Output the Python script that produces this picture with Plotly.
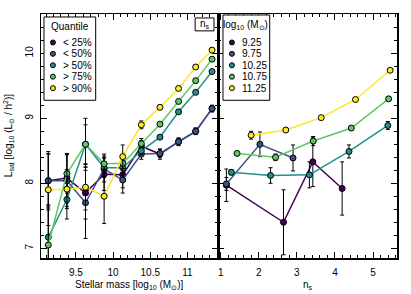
import plotly.graph_objects as go

# ---------------- data ----------------
mass_x = [9.13, 9.38, 9.63, 9.88, 10.13, 10.38, 10.63, 10.88, 11.11, 11.33]
q_names = ["< 25%", "< 50%", "> 50%", "> 75%", "> 90%"]
q25 = [8.04, 8.08, 7.85, 8.14, 8.13, 8.57, 8.45, 8.64, 8.80, 9.15]
q50 = [8.04, 8.04, 7.70, 8.22, 8.05, 8.45, 8.46, 8.64, 8.80, 9.15]
qg50 = [7.17, 7.75, 8.60, 8.24, 8.24, 8.50, 8.71, 9.10, 9.40, 9.72]
qg75 = [7.05, 8.15, 8.60, 8.30, 8.31, 8.61, 8.91, 9.26, 9.58, 9.91]
qg90 = [7.90, 7.91, 7.94, 7.80, 8.41, 8.90, 9.17, 9.46, 9.79, 10.05]
q25_err = [0.42, 0.38, 0.40, 0.25, 0.20, 0.12, 0.08, 0.06, 0.05, 0.05]
q50_err = [0.45, 0.40, 0.55, 0.20, 0.20, 0.08, 0.06, 0.05, 0.05, 0.05]
qg50_err = [0.50, 0.30, 0.30, 0.15, 0.15, 0.06, 0.03, 0.03, 0.03, 0.03]
qg75_err = [0.60, 0.30, 0.40, 0.15, 0.12, 0.05, 0.03, 0.03, 0.03, 0.03]
qg90_err = [0.55, 0.30, 0.35, 0.42, 0.18, 0.06, 0.03, 0.03, 0.03, 0.03]

m_names = ["9.25", "9.75", "10.25", "10.75", "11.25"]
m925_x = [1.15, 2.65, 3.42, 4.19]
m925_y = [7.97, 7.40, 8.33, 7.92]
m925_e = [0.25, 0.50, 0.38, 0.41]
m975_x = [1.15, 2.03, 2.90]
m975_y = [7.99, 8.60, 8.39]
m975_e = [0.10, 0.19, 0.20]
m1025_x = [1.28, 2.31, 3.33, 4.37, 5.39]
m1025_y = [8.17, 8.12, 8.13, 8.49, 8.89]
m1025_e = [0.04, 0.12, 0.20, 0.10, 0.06]
m1075_x = [1.43, 2.44, 3.43, 4.43, 5.41]
m1075_y = [8.46, 8.40, 8.65, 8.85, 9.30]
m1075_e = [0.03, 0.05, 0.07, 0.03, 0.03]
m1125_x = [1.80, 2.71, 3.64, 4.54, 5.45]
m1125_y = [8.74, 8.82, 9.01, 9.29, 9.74]
m1125_e = [0.06, 0.02, 0.02, 0.02, 0.02]

colors = ["#440154", "#3b528b", "#21908d", "#5dc963", "#fde725"]

FONT = "Liberation Sans, Arial, sans-serif"
fig = go.Figure()

left_series = [(q25, q25_err), (q50, q50_err), (qg50, qg50_err), (qg75, qg75_err), (qg90, qg90_err)]
for (ys, es), c, n in zip(left_series, colors, q_names):
    fig.add_trace(go.Scatter(
        x=mass_x, y=ys, name=n, mode="lines+markers", xaxis="x", yaxis="y",
        line=dict(color=c, width=1.5),
        marker=dict(color=c, size=6, line=dict(color="black", width=1)),
        error_y=dict(type="data", array=es, color="black", thickness=1, width=2),
        showlegend=False))

right_series = [(m925_x, m925_y, m925_e), (m975_x, m975_y, m975_e), (m1025_x, m1025_y, m1025_e),
                (m1075_x, m1075_y, m1075_e), (m1125_x, m1125_y, m1125_e)]
for (xs, ys, es), c, n in zip(right_series, colors, m_names):
    fig.add_trace(go.Scatter(
        x=xs, y=ys, name=n, mode="lines+markers", xaxis="x2", yaxis="y2",
        line=dict(color=c, width=1.5),
        marker=dict(color=c, size=6, line=dict(color="black", width=1)),
        error_y=dict(type="data", array=es, color="black", thickness=1, width=2),
        showlegend=False))

W, H = 411, 294
ML, MR, MT, MB = 41, 12, 12, 36
PW, PH = W - ML - MR, H - MT - MB
split = (219 - ML) / PW


def px(x):  # pixel -> paper x
    return (x - ML) / PW


def py(y):  # pixel -> paper y
    return (H - MB - y) / PH


axis_common = dict(showgrid=False, zeroline=False, showline=True, linecolor="black", linewidth=1.5,
                   ticks="inside", ticklen=6, tickwidth=1, tickcolor="black", mirror="ticks",
                   tickfont=dict(family=FONT, size=10, color="black"))
fig.update_layout(
    width=W, height=H, margin=dict(l=ML, r=MR, t=MT, b=MB),
    paper_bgcolor="white", plot_bgcolor="white", showlegend=False,
    xaxis=dict(domain=[0, split], range=[9.032, 11.41], tick0=9.5, dtick=0.5, anchor="y",
               ticklabelstandoff=4,
               minor=dict(ticks="inside", dtick=0.1, ticklen=3, tickcolor="black"),
               **axis_common),
    xaxis2=dict(domain=[split, 1], range=[0.93, 5.63], tick0=1, dtick=1, anchor="y2",
                ticklabelstandoff=4,
                minor=dict(ticks="inside", dtick=0.2, ticklen=3, tickcolor="black"),
                **axis_common),
    yaxis=dict(domain=[0, 1], range=[6.85, 10.606], tick0=7, dtick=1, anchor="x", tickangle=-90,
               ticklabelstandoff=3,
               minor=dict(ticks="inside", dtick=0.2, ticklen=3, tickcolor="black"),
               **axis_common),
    yaxis2=dict(domain=[0, 1], range=[6.85, 10.606], tick0=7, dtick=1, anchor="x2", matches="y",
                showticklabels=False,
                minor=dict(ticks="inside", dtick=0.2, ticklen=3, tickcolor="black"),
                **axis_common),
)

shapes = []
annotations = []


def legend(box, title, names, title_xy, item_y, marker_x, text_x):
    x0, y0, x1, y1 = box
    shapes.append(dict(type="rect", xref="paper", yref="paper", x0=px(x0), x1=px(x1), y0=py(y1), y1=py(y0),
                       line=dict(color="black", width=1), fillcolor="white", layer="above"))
    annotations.append(dict(xref="paper", yref="paper", x=px(title_xy[0]), y=py(title_xy[1]), text=title,
                            showarrow=False, xanchor="center", yanchor="middle",
                            font=dict(family=FONT, size=10, color="black")))
    for n, c, yy in zip(names, colors, item_y):
        shapes.append(dict(type="circle", xref="paper", yref="paper", xsizemode="pixel", ysizemode="pixel",
                           xanchor=px(marker_x), yanchor=py(yy), x0=-2.5, x1=2.5, y0=-2.5, y1=2.5,
                           fillcolor=c, line=dict(color="black", width=1), layer="above"))
        annotations.append(dict(xref="paper", yref="paper", x=px(text_x), y=py(yy), text=n, showarrow=False,
                                xanchor="left", yanchor="middle",
                                font=dict(family=FONT, size=10, color="black")))


item_ys = [40.7, 52.2, 63.7, 75.2, 86.7]
legend((44, 15, 96, 99), "Quantile", q_names, (70, 25), item_ys, 53, 61)
legend((224, 13, 271, 99), "log<sub>10</sub> (M<sub>⊙</sub>)", m_names, (247, 23), item_ys, 233, 241)

# n_s label box
shapes.append(dict(type="rect", xref="paper", yref="paper", x0=px(196), x1=px(215), y0=py(29), y1=py(16),
                   line=dict(color="black", width=1), fillcolor="white", layer="above"))
annotations.append(dict(xref="paper", yref="paper", x=px(205.5), y=py(22.5), text="n<sub>s</sub>",
                        showarrow=False, xanchor="center", yanchor="middle",
                        font=dict(family=FONT, size=10, color="black")))

# axis titles
annotations.append(dict(xref="paper", yref="paper", x=px(130), y=py(285),
                        text="Stellar mass [log<sub>10</sub> (M<sub>⊙</sub>)]", showarrow=False,
                        xanchor="center", yanchor="middle", font=dict(family=FONT, size=10, color="black")))
annotations.append(dict(xref="paper", yref="paper", x=px(310), y=py(285), text="n<sub>s</sub>",
                        showarrow=False, xanchor="center", yanchor="middle",
                        font=dict(family=FONT, size=10, color="black")))
annotations.append(dict(xref="paper", yref="paper", x=px(8), y=py(135), textangle=-90,
                        text="L<sub>sat</sub> [log<sub>10</sub> (L<sub>⊙</sub> / h<sup>2</sup>)]",
                        showarrow=False, xanchor="center", yanchor="middle",
                        font=dict(family=FONT, size=10, color="black")))

fig.update_layout(shapes=shapes, annotations=annotations)
fig.write_html(
    "out.html",
    config={"displayModeBar": False, "staticPlot": True},
    post_script="document.documentElement.style.margin='0';document.body.style.margin='0';"
                "document.body.style.overflow='hidden';",
)
